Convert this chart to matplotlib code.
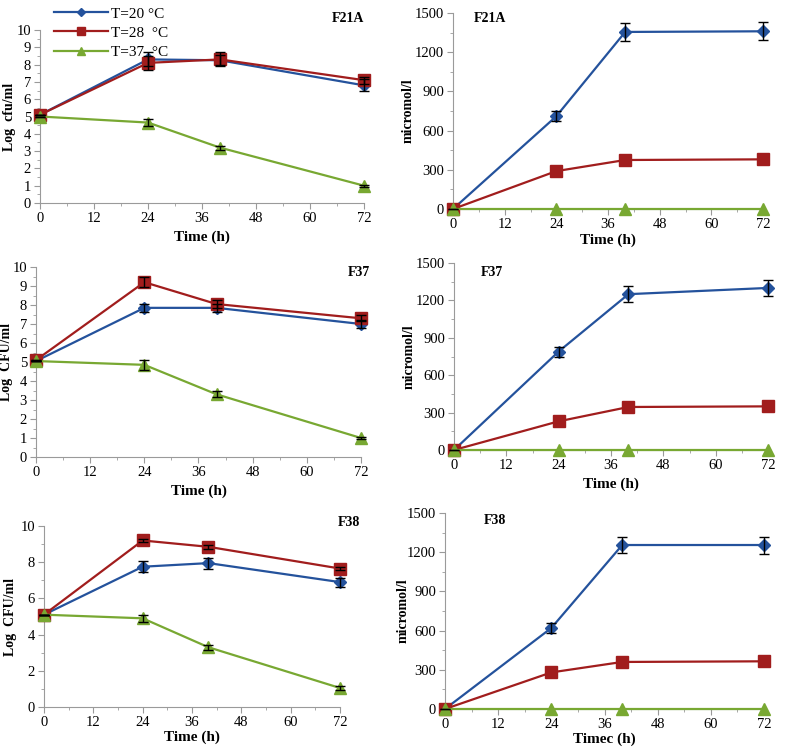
import matplotlib
matplotlib.use("Agg")
import matplotlib.pyplot as plt
from matplotlib.ticker import MultipleLocator
from matplotlib.lines import Line2D
from matplotlib.transforms import blended_transform_factory

plt.rcParams['font.family'] = ['Liberation Serif', 'DejaVu Serif']

# sampling times (h)
time_h = [0, 24, 40, 72]

# log counts, per strain: T=20, T=28, T=37
log_f21a_20 = [5.1, 8.3, 8.25, 6.8]
log_f21a_28 = [5.1, 8.1, 8.3, 7.1]
log_f21a_37 = [5.0, 4.65, 3.2, 1.0]
log_f21a_20_err = [0, 0.4, 0.3, 0.35]
log_f21a_28_err = [0, 0.4, 0.4, 0.2]
log_f21a_37_err = [0, 0.2, 0.12, 0.05]

log_f37_20 = [5.05, 7.85, 7.85, 7.0]
log_f37_28 = [5.1, 9.2, 8.05, 7.3]
log_f37_37 = [5.05, 4.85, 3.3, 1.0]
log_f37_20_err = [0, 0.2, 0.2, 0.2]
log_f37_28_err = [0, 0.25, 0.2, 0.15]
log_f37_37_err = [0, 0.25, 0.15, 0.05]

log_f38_20 = [5.1, 7.75, 7.95, 6.9]
log_f38_28 = [5.1, 9.2, 8.85, 7.65]
log_f38_37 = [5.1, 4.9, 3.3, 1.05]
log_f38_20_err = [0, 0.3, 0.3, 0.25]
log_f38_28_err = [0, 0.1, 0.1, 0.1]
log_f38_37_err = [0, 0.2, 0.15, 0.1]

# micromol/l
mic_f21a_20 = [0, 710, 1355, 1360]
mic_f21a_28 = [0, 290, 375, 380]
mic_f21a_37 = [0, 0, 0, 0]
mic_f21a_20_err = [0, 40, 70, 70]

mic_f37_20 = [0, 790, 1250, 1300]
mic_f37_28 = [0, 230, 345, 350]
mic_f37_37 = [0, 0, 0, 0]
mic_f37_20_err = [0, 40, 65, 65]

mic_f38_20 = [0, 620, 1255, 1255]
mic_f38_28 = [0, 280, 360, 365]
mic_f38_37 = [0, 0, 0, 0]
mic_f38_20_err = [0, 35, 60, 65]

labels = ["T=20 °C", "T=28  °C", "T=37  °C"]
blue = '#24529c'
red = '#a11d1d'
green = '#78a832'
styles = [(blue, 'D', 6), (red, 's', 8.5), (green, '^', 8.5)]

W, H = 787, 748
fig = plt.figure(figsize=(W / 100, H / 100), dpi=100)


def make_ax(l, r, t, b):
    return fig.add_axes([l / W, 1 - b / H, (r - l) / W, (b - t) / H])


def draw(ax, series, errs, ylim, ymaj, ymin, ylabel, xlabel, ylab_x, xpad):
    for (c, m, ms), y, e in zip(styles, series, errs):
        if e is not None:
            ax.errorbar(time_h, y, yerr=e, fmt='none', ecolor='black',
                        elinewidth=1, capsize=3.5, capthick=1, zorder=4, clip_on=False)
        ax.plot(time_h, y, color=c, marker=m, markersize=ms, lw=1.6,
                markeredgecolor=c, zorder=3, clip_on=False)
    ax.set_xlim(0, 72)
    ax.set_ylim(*ylim)
    ax.xaxis.set_major_locator(MultipleLocator(12))
    ax.xaxis.set_minor_locator(MultipleLocator(6))
    ax.yaxis.set_major_locator(MultipleLocator(ymaj))
    ax.yaxis.set_minor_locator(MultipleLocator(ymin))
    for s in ['top', 'right']:
        ax.spines[s].set_visible(False)
    for s in ['left', 'bottom']:
        ax.spines[s].set_color('#9a9a9a')
    ax.tick_params(which='major', length=4, color='#9a9a9a', labelsize=10.5, pad=2.5)
    ax.tick_params(which='minor', length=2.5, color='#9a9a9a')
    ax.set_ylabel(ylabel, fontweight='bold', fontsize=10)
    # label anchor is the right-hand edge of the rotated text
    ax.yaxis.set_label_coords(ylab_x / W, 0.5,
                              transform=blended_transform_factory(fig.transFigure, ax.transAxes))
    ax.set_xlabel(xlabel, fontweight='bold', fontsize=11, labelpad=xpad)


ax1 = make_ax(40, 364, 30, 203)
draw(ax1, [log_f21a_20, log_f21a_28, log_f21a_37],
     [log_f21a_20_err, log_f21a_28_err, log_f21a_37_err],
     (0, 10), 1, 0.5, "Log  cfu/ml", "Time (h)", 16, 4)
ax2 = make_ax(453, 763, 13, 209)
draw(ax2, [mic_f21a_20, mic_f21a_28, mic_f21a_37],
     [mic_f21a_20_err, None, None],
     (0, 1500), 300, 150, "micromol/l", "Time (h)", 415, 2)
ax3 = make_ax(36, 361, 267, 457)
draw(ax3, [log_f37_20, log_f37_28, log_f37_37],
     [log_f37_20_err, log_f37_28_err, log_f37_37_err],
     (0, 10), 1, 0.5, "Log  CFU/ml", "Time (h)", 13, 4)
ax4 = make_ax(454, 768, 263, 450)
draw(ax4, [mic_f37_20, mic_f37_28, mic_f37_37],
     [mic_f37_20_err, None, None],
     (0, 1500), 300, 150, "micromol/l", "Time (h)", 416, 4)
ax5 = make_ax(44, 340, 526, 707)
draw(ax5, [log_f38_20, log_f38_28, log_f38_37],
     [log_f38_20_err, log_f38_28_err, log_f38_37_err],
     (0, 10), 2, 1, "Log  CFU/ml", "Time (h)", 17, 1)
ax6 = make_ax(445, 764, 513, 709)
draw(ax6, [mic_f38_20, mic_f38_28, mic_f38_37],
     [mic_f38_20_err, None, None],
     (0, 1500), 300, 150, "micromol/l", "Timec (h)", 410, 1)

# panel tags
for txt, x, y in [("F21A", 348, 18), ("F21A", 490, 18), ("F37", 359, 273),
                  ("F37", 492, 273), ("F38", 349, 523), ("F38", 495, 520)]:
    fig.text(x / W, 1 - y / H, txt, ha='center', va='center',
             fontweight='bold', fontsize=10)

handles = [Line2D([], [], color=c, marker=m, markersize=ms * 0.75, lw=1.6)
           for c, m, ms in styles]
fig.legend(handles, labels, loc='upper left', bbox_to_anchor=(48 / W, 1 - 1 / H),
           frameon=False, fontsize=11, handlelength=3.5, handletextpad=0.2,
           labelspacing=0.35, borderaxespad=0)

fig.savefig("out.png", dpi=100)
